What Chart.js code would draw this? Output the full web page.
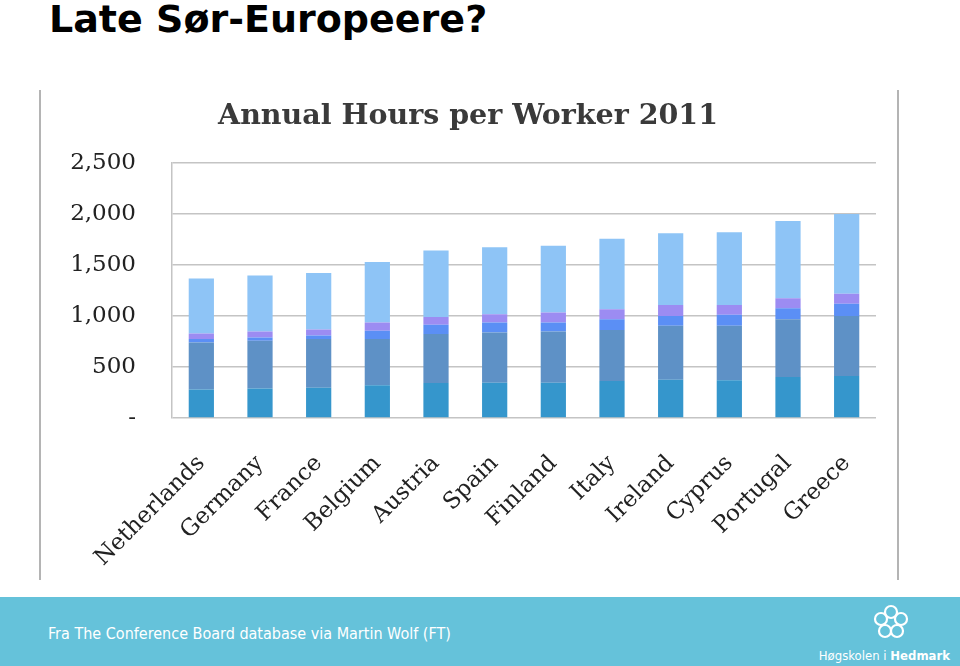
<!DOCTYPE html>
<html>
<head>
<meta charset="utf-8">
<script src="https://cdn.jsdelivr.net/npm/chart.js@4"></script>
<style>
  body { margin: 0; background: #fff; }
  #page { position: relative; width: 960px; height: 666px; overflow: hidden; background: #fff; }
  #heading { position: absolute; left: 49px; top: -3px; font: bold 38px "DejaVu Sans", sans-serif; color: #000; white-space: nowrap; }
  #chartBox { position: absolute; left: 40px; top: 88px; width: 860px; height: 492px; }
  .vline { position: absolute; top: 90px; height: 490px; width: 2px; background: #b4b4b4; }
  #footer { position: absolute; left: 0; top: 597px; width: 960px; height: 69px; background: #65c2da; }
  #source { position: absolute; left: 48px; top: 27px; font: 16px "DejaVu Sans Condensed", "DejaVu Sans", sans-serif; color: #fff; white-space: nowrap; }
  #logoText { position: absolute; right: 10px; top: 51px; font: 13px "DejaVu Sans Condensed", "DejaVu Sans", sans-serif; color: #fff; white-space: nowrap; }
  #logoIcon { position: absolute; left: 872px; top: 6px; }
</style>
</head>
<body>
<div id="page">
  <div id="heading">Late Sør-Europeere?</div>
  <div class="vline" style="left:39px"></div>
  <div class="vline" style="left:897px"></div>
  <div id="chartBox"><canvas id="hoursChart" width="860" height="492"></canvas></div>
  <div id="footer">
    <div id="source">Fra The Conference Board database via Martin Wolf (FT)</div>
    <svg id="logoIcon" width="38" height="38" viewBox="0 0 38 38">
      <g fill="none" stroke="#fff" stroke-width="2.2">
        <circle cx="19" cy="9" r="6"/>
        <circle cx="29" cy="16" r="6"/>
        <circle cx="25" cy="28" r="6"/>
        <circle cx="13" cy="28" r="6"/>
        <circle cx="9" cy="16" r="6"/>
      </g>
    </svg>
    <div id="logoText">Høgskolen i <b>Hedmark</b></div>
  </div>
</div>

<script>
const countries = ["Netherlands", "Germany", "France", "Belgium", "Austria", "Spain",
                   "Finland", "Italy", "Ireland", "Cyprus", "Portugal", "Greece"];

// stacked segments, bottom to top
const part1 = [280, 289, 298, 321, 343, 347, 347, 363, 376, 370, 402, 411];
const part2 = [462, 470, 477, 454, 481, 493, 502, 500, 529, 535, 568, 591];
const part3 = [33, 32, 35, 81, 90, 97, 88, 107, 97, 107, 107, 120];
const part4 = [55, 58, 59, 81, 78, 81, 97, 97, 107, 97, 97, 97];
const part5 = [539, 549, 554, 593, 652, 658, 656, 691, 703, 713, 758, 782];

const yTicks = [0, 500, 1000, 1500, 2000, 2500];

const colors = ["#3596cc", "#5e91c6", "#5b8ff5", "#9c8cf2", "#8ec4f6"];
const parts = [part1, part2, part3, part4, part5];

const serif = "'DejaVu Serif', serif";

new Chart(document.getElementById("hoursChart"), {
    type: "bar",
    data: {
        labels: countries,
        datasets: parts.map((p, i) => ({
            label: "Del " + (i + 1),
            data: p,
            backgroundColor: colors[i],
            borderWidth: 0,
            barPercentage: 0.43,
            categoryPercentage: 1
        }))
    },
    options: {
        responsive: false,
        animation: false,
        layout: { padding: { right: 24, left: 20, top: 0, bottom: 0 } },
        plugins: {
            legend: { display: false },
            tooltip: { enabled: false },
            title: {
                display: true,
                text: "Annual Hours per Worker 2011",
                color: "#3a3a3a",
                font: { family: serif, weight: "bold", size: 28.5 },
                padding: { top: 11, bottom: 30 }
            }
        },
        scales: {
            x: {
                stacked: true,
                grid: { display: false },
                border: { display: false },
                ticks: {
                    color: "#222",
                    font: { family: serif, size: 23 },
                    maxRotation: 45,
                    minRotation: 45,
                    padding: 24
                },
                afterFit: s => { s.height = 162; }
            },
            y: {
                stacked: true,
                min: 0,
                max: 2500,
                afterBuildTicks: s => { s.ticks = yTicks.map(v => ({ value: v })); },
                grid: { color: "#c4c4c4", lineWidth: 1.5, drawTicks: false },
                border: { display: true, color: "#c4c4c4", width: 1.5 },
                ticks: {
                    color: "#222",
                    font: { family: serif, size: 23 },
                    padding: 36,
                    callback: v => v === 0 ? "-" : v.toLocaleString("en-US")
                },
                afterFit: s => { s.width = 112; }
            }
        }
    }
});
</script>
</body>
</html>
